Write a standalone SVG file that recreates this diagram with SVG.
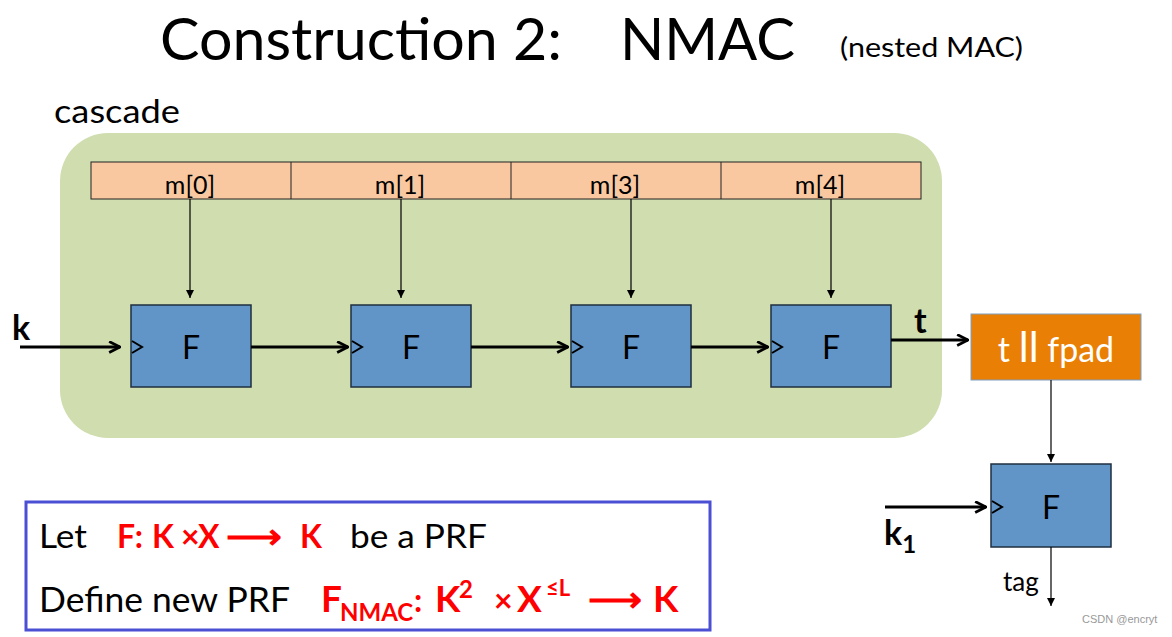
<svg xmlns="http://www.w3.org/2000/svg" width="1172" height="637" viewBox="0 0 1172 637">
<style>
.t{font-family:Lato,"Open Sans","Liberation Sans",sans-serif;fill:#000}
.b{font-weight:bold}
.r{fill:#ff0000;font-weight:bold;font-family:Lato,"Open Sans","Liberation Sans",sans-serif}
.fbox{fill:#6194c7;stroke:#1f2f40;stroke-width:1.5}
.thin{stroke:#000;stroke-width:1.2;fill:none}
.thick{stroke:#000;stroke-width:3;fill:none}
.clk{stroke:#000;stroke-width:2;fill:none}
</style>
<defs>
<marker id="ah" viewBox="0 0 10 10" refX="10" refY="5" markerWidth="8" markerHeight="10" markerUnits="userSpaceOnUse" orient="auto">
<path d="M0,0 L10,5 L0,10 z" fill="#000"/>
</marker>
<marker id="oh" viewBox="0 0 12 12" refX="11" refY="6" markerWidth="13" markerHeight="13" markerUnits="userSpaceOnUse" orient="auto">
<path d="M1,1 L11,6 L1,11" fill="none" stroke="#000" stroke-width="2.6"/>
</marker>
</defs>
<rect width="1172" height="637" fill="#fff"/>

<g id="title">
<text class="t" x="160" y="60" font-size="58" textLength="402" lengthAdjust="spacingAndGlyphs">Construction 2:</text>
<text class="t" x="620" y="60" font-size="58" textLength="175" lengthAdjust="spacingAndGlyphs">NMAC</text>
<text class="t" x="840" y="57" font-size="26" textLength="183" lengthAdjust="spacingAndGlyphs">(nested MAC)</text>
</g>

<g id="cascade">
<rect x="60" y="133" width="882" height="305" rx="48" fill="#cfddaf"/>
<text class="t" x="54" y="123" font-size="32" textLength="126" lengthAdjust="spacingAndGlyphs">cascade</text>
</g>

<g id="messages">
<rect x="91" y="162" width="830" height="37" fill="#f9c8a0" stroke="#222" stroke-width="1"/>
<line x1="291" y1="162" x2="291" y2="199" stroke="#222" stroke-width="1"/>
<line x1="511" y1="162" x2="511" y2="199" stroke="#222" stroke-width="1"/>
<line x1="721" y1="162" x2="721" y2="199" stroke="#222" stroke-width="1"/>
<text class="t" x="190" y="194" font-size="25" text-anchor="middle">m[0]</text>
<text class="t" x="400" y="194" font-size="25" text-anchor="middle">m[1]</text>
<text class="t" x="615" y="194" font-size="25" text-anchor="middle">m[3]</text>
<text class="t" x="820" y="194" font-size="25" text-anchor="middle">m[4]</text>
</g>

<g id="F1"><rect class="fbox" x="131" y="305" width="120" height="82"/><polyline class="clk" points="132,341 142,347 132,353"/><text class="t" x="191" y="359" font-size="32" text-anchor="middle">F</text></g>
<g id="F2"><rect class="fbox" x="351" y="305" width="120" height="82"/><polyline class="clk" points="352,341 362,347 352,353"/><text class="t" x="411" y="359" font-size="32" text-anchor="middle">F</text></g>
<g id="F3"><rect class="fbox" x="571" y="305" width="120" height="82"/><polyline class="clk" points="572,341 582,347 572,353"/><text class="t" x="631" y="359" font-size="32" text-anchor="middle">F</text></g>
<g id="F4"><rect class="fbox" x="771" y="305" width="120" height="82"/><polyline class="clk" points="772,341 782,347 772,353"/><text class="t" x="831" y="359" font-size="32" text-anchor="middle">F</text></g>

<g id="pad">
<rect x="971" y="314" width="170" height="66" fill="#ea7f05" stroke="#7f9fc0" stroke-width="1"/>
<text x="1056" y="362" font-size="34" text-anchor="middle" fill="#fff" font-family="Lato,'Open Sans',sans-serif">t <tspan font-size="42">ll</tspan> fpad</text>
</g>

<g id="F5"><rect class="fbox" x="991" y="464" width="120" height="83"/><polyline class="clk" points="992,501 1002,507 992,513"/><text class="t" x="1051" y="519" font-size="32" text-anchor="middle">F</text></g>

<g id="labels">
<text class="t b" x="12" y="340" font-size="34">k</text>
<text class="t b" x="914" y="333" font-size="34">t</text>
<text class="t b" x="884" y="545" font-size="34">k<tspan font-size="24" dy="8">1</tspan></text>
<text class="t" x="1003" y="591" font-size="26">tag</text>
<text x="1082" y="623" font-size="11" fill="#999" font-family="'Liberation Sans',sans-serif">CSDN @encryt</text>
</g>

<g id="connectors">
<line class="thin" x1="190" y1="199" x2="190" y2="298" marker-end="url(#ah)"/>
<line class="thin" x1="401" y1="199" x2="401" y2="298" marker-end="url(#ah)"/>
<line class="thin" x1="631" y1="199" x2="631" y2="298" marker-end="url(#ah)"/>
<line class="thin" x1="831" y1="199" x2="831" y2="298" marker-end="url(#ah)"/>
<line class="thick" x1="20" y1="347" x2="120" y2="347" marker-end="url(#oh)"/>
<line class="thick" x1="251" y1="347" x2="348" y2="347" marker-end="url(#oh)"/>
<line class="thick" x1="471" y1="347" x2="568" y2="347" marker-end="url(#oh)"/>
<line class="thick" x1="691" y1="347" x2="768" y2="347" marker-end="url(#oh)"/>
<line class="thick" x1="891" y1="340" x2="968" y2="340" marker-end="url(#oh)"/>
<line class="thin" x1="1051" y1="380" x2="1051" y2="462" marker-end="url(#ah)"/>
<line class="thick" x1="885" y1="507" x2="986" y2="507" marker-end="url(#oh)"/>
<line class="thin" x1="1051" y1="547" x2="1051" y2="606" marker-end="url(#ah)"/>
</g>

<g id="definition">
<rect x="26" y="502" width="684" height="128" fill="none" stroke="#4a4fd3" stroke-width="3"/>
<text class="t" x="39" y="548" font-size="33" textLength="48" lengthAdjust="spacingAndGlyphs">Let</text>
<text class="r" y="548" font-size="32"><tspan x="117">F:</tspan><tspan x="152">K</tspan><tspan x="181">×</tspan><tspan x="198">X</tspan><tspan x="300">K</tspan></text>
<text class="r" x="226" y="548" font-size="32" font-weight="normal" textLength="56" lengthAdjust="spacingAndGlyphs">⟶</text>
<text class="t" x="350" y="548" font-size="33" textLength="137" lengthAdjust="spacingAndGlyphs">be a PRF</text>
<text class="t" x="39" y="612" font-size="34" textLength="251" lengthAdjust="spacingAndGlyphs">Define new PRF</text>
<text class="r" y="612" font-size="37"><tspan x="321">F</tspan><tspan x="340" y="621" font-size="24">NMAC</tspan><tspan x="414" y="612" font-size="32">:</tspan><tspan x="435">K</tspan><tspan x="459" y="598" font-size="24">2</tspan><tspan x="494" y="612" font-size="32">×</tspan><tspan x="517">X</tspan><tspan x="546" y="596" font-size="22">≤L</tspan><tspan x="653" y="612">K</tspan></text>
<text class="r" x="588" y="612" font-size="37" font-weight="normal" textLength="54" lengthAdjust="spacingAndGlyphs">⟶</text>
</g>
</svg>
